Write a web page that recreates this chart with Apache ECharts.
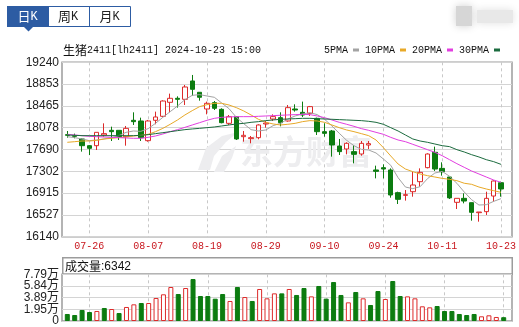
<!DOCTYPE html>
<html><head><meta charset="utf-8">
<script src="https://cdn.jsdelivr.net/npm/echarts@6/dist/echarts.min.js"></script>
<style>html,body{margin:0;padding:0;background:#fff}#c{width:519px;height:327px}</style>
</head><body><div id="c"></div>
<script>
const dates = ['07-23','07-24','07-25','07-26','07-29','07-30','07-31','08-01','08-02','08-05','08-06','08-07','08-08','08-09','08-12','08-13','08-14','08-15','08-16','08-19','08-20','08-21','08-22','08-23','08-26','08-27','08-28','08-29','08-30','09-02','09-03','09-04','09-05','09-06','09-09','09-10','09-11','09-12','09-13','09-18','09-19','09-20','09-23','09-24','09-25','09-26','09-27','09-30','10-08','10-09','10-10','10-11','10-14','10-15','10-16','10-17','10-18','10-21','10-22','10-23'];
const dateLabels = ['07-26','08-07','08-19','08-29','09-10','09-24','10-11','10-23'];
const opens  = [17954,17936,17877,17758,17758,17948,18031,18031,17918,18209,18197,17847,18209,18280,18529,18600,18582,18908,18707,18410,18523,18404,18155,18274,17918,17883,17900,18144,18232,18256,18197,18410,18351,18333,18244,18007,18019,17752,17699,17652,17610,17770,17326,17367,17326,16923,16875,16940,17118,17367,17640,17355,17201,16751,16822,16745,16567,16585,16863,17100];
const closes = [17942,17924,17758,17711,17995,17972,18007,17918,18066,18185,17900,18197,18268,18552,18600,18582,18801,18760,18618,18511,18422,18167,18274,17877,17942,17900,18126,18161,18274,18167,18434,18392,18303,18452,18007,17977,17770,17652,17800,17604,17800,17794,17302,17343,16881,16804,16887,17059,17284,17610,17343,17296,16830,16822,16774,16573,16579,16822,17130,16988];
const lows   = [17900,17889,17652,17592,17681,17918,17841,17859,17758,18126,17841,17829,18138,18268,18351,18434,18481,18647,18558,18315,18392,18155,18126,17859,17829,17800,17871,18078,18197,18102,18185,18363,18268,18286,17948,17918,17563,17592,17604,17444,17580,17699,17177,17177,16834,16721,16781,16851,17029,17355,17308,17225,16810,16632,16733,16425,16407,16526,16763,16851];
const highs  = [18019,17972,17889,17770,17995,18155,18096,18031,18108,18351,18256,18215,18363,18564,18683,18635,18837,19015,18707,18541,18552,18422,18303,18274,18019,17930,18138,18197,18315,18351,18481,18493,18541,18464,18256,18155,18037,17877,17818,17770,17841,17841,17403,17426,17355,16940,16970,17296,17355,17622,17741,17462,17201,16822,16911,16745,16579,16940,17142,17118];
const ma5  = [17918,17901,17877,17847,17859,17877,17901,17936,17995,18019,18013,18061,18155,18262,18363,18464,18576,18653,18665,18641,18618,18517,18416,18262,18149,18043,18019,18037,18114,18155,18232,18286,18321,18345,18310,18227,18108,17978,17853,17758,17693,17681,17628,17521,17409,17189,17023,16994,17029,17172,17272,17302,17213,17089,16934,16798,16703,16709,16768,16816];
const ma10 = [17818,17829,17841,17841,17853,17877,17889,17901,17912,17930,17942,17960,18007,18066,18138,18215,18304,18381,18452,18487,18511,18511,18481,18434,18375,18304,18227,18173,18144,18126,18138,18155,18185,18203,18197,18173,18126,18078,18037,18007,17972,17936,17859,17723,17575,17432,17343,17296,17255,17225,17201,17177,17160,17136,17090,17071,17023,16988,16958,16929];
const ma20 = [17960,17948,17936,17924,17918,17912,17906,17901,17895,17889,17889,17906,17930,17966,18007,18043,18084,18126,18167,18209,18244,18262,18268,18274,18274,18274,18280,18286,18292,18298,18304,18310,18315,18310,18286,18256,18215,18173,18138,18102,18061,18031,17995,17960,17906,17859,17829,17782,17735,17687,17640,17580,17509,17438,17373,17308,17255,17201,17148,17106];
const ma30 = [17948,17942,17936,17936,17936,17936,17936,17936,17936,17936,17942,17954,17972,17989,18007,18025,18043,18055,18066,18078,18090,18108,18126,18144,18155,18173,18185,18203,18215,18227,18232,18238,18244,18244,18238,18232,18227,18221,18215,18209,18203,18191,18173,18138,18078,18019,17948,17877,17841,17818,17788,17758,17741,17687,17646,17598,17557,17509,17474,17426];
const volumes = [11700,10000,18400,15000,16700,21700,20000,13300,23400,27800,30000,30000,38400,44500,56700,45000,55000,70000,41700,41700,37200,45000,33400,56700,40000,33400,53400,37800,46100,46100,53400,43400,55000,41100,58400,37300,65000,43400,31100,48400,37800,26700,50000,36700,66700,41700,41100,37800,24500,22800,25000,16700,16700,11700,10000,11700,7800,9500,6700,6342];
const volumeDirection = [-1,-1,-1,-1,1,-1,1,-1,1,1,-1,1,1,1,1,-1,1,-1,-1,-1,-1,-1,1,-1,1,-1,1,1,1,-1,1,-1,-1,1,-1,-1,-1,-1,1,-1,1,-1,-1,1,-1,-1,1,1,1,1,-1,-1,-1,-1,-1,-1,1,1,1,-1];
const priceTicks = [16140,16527,16915,17302,17690,18078,18465,18853,19240];
const volumeTicks = [0,19475,38950,58425,77900];
const volumeTickLabels = ['0','1.95万','3.89万','5.84万','7.79万'];
const maNames = ['5PMA','10PMA','20PMA','30PMA'];
const lastVolumeText = '6342';

const RED = '#dd2a2a', GREEN = '#0c7c10', BLUE = '#2d5ca3';
const maColors = ['#a3a3a3','#e8a928','#e23ee0','#1b6b3e'];
const maData = [ma5, ma10, ma20, ma30];
const labelSet = new Set(dateLabels);
const showIdx = (i, v) => labelSet.has(v !== undefined ? v : dates[i]);
const gridLine = {color:'#d4d4d4', width:1};
const dashLine = {color:'#c8c8c8', width:1, type:[3,3]};
const volLabel = v => volumeTickLabels[volumeTicks.indexOf(Math.round(v))];

const chart = echarts.init(document.getElementById('c'));
const candleData = opens.map((o, i) => [o, closes[i], lows[i], highs[i]]);
const volData = volumes.map((v, i) => ({
  value: v,
  itemStyle: volumeDirection[i] > 0 ? {color:'#fff', borderColor:RED, borderWidth:1} : {color:GREEN, borderColor:GREEN, borderWidth:1}
}));
const volAxisLabelStyle = {formatter: volLabel, color: '#222', fontSize: 12, margin: 3, showMinLabel: true, showMaxLabel: true, hideOverlap: false};

const option = {
  animation: false,
  backgroundColor: '#fff',
  textStyle: {fontFamily: 'Liberation Sans, Noto Sans CJK SC'},
  title: {
    text: '{c|生猪}{m|2411[lh2411] 2024-10-23 15:00}',
    left: 63, top: 44, padding: 0,
    textStyle: {fontWeight: 'normal', rich: {
      c: {fontSize: 12, fontWeight: 'normal', fontFamily: 'Noto Sans CJK SC', color: '#111'},
      m: {fontSize: 10, fontWeight: 'normal', fontFamily: 'Liberation Mono', color: '#111'}
    }}
  },
  legend: {
    data: maNames, right: 19, top: 45, padding: 0, align: 'right', icon: 'rect',
    itemWidth: 6, itemHeight: 3, itemGap: 6, selectedMode: false,
    textStyle: {fontSize: 10, fontWeight: 'normal', fontFamily: 'Liberation Mono', color: '#111'}
  },
  grid: [
    {left: 62, top: 62.3, width: 450, height: 174.4, show: true, borderColor: '#9c9c9c', borderWidth: 1.5},
    {left: 67.3, top: 62.3, width: 436.4, height: 174.4},
    {left: 62, top: 274.3, width: 450, height: 46.7, show: true, borderColor: '#9c9c9c', borderWidth: 1.5},
    {left: 67.3, top: 274.3, width: 436.4, height: 46.7}
  ],
  xAxis: [
    {type: 'value', gridIndex: 0, show: false},
    {type: 'category', gridIndex: 1, data: dates, boundaryGap: false,
      axisLine: {show: false}, axisTick: {show: false},
      axisLabel: {interval: showIdx, color: '#c8171e', fontSize: 10, fontFamily: 'Liberation Mono', margin: 5},
      splitLine: {show: true, interval: showIdx, lineStyle: dashLine}},
    {type: 'value', gridIndex: 2, show: false},
    {type: 'category', gridIndex: 3, data: dates, boundaryGap: false,
      axisLine: {show: false}, axisTick: {show: false}, axisLabel: {show: false},
      splitLine: {show: true, interval: showIdx, lineStyle: dashLine}}
  ],
  yAxis: [
    {type: 'value', gridIndex: 0, min: 16140, max: 19240,
      axisLine: {show: false}, axisTick: {show: false, customValues: priceTicks},
      axisLabel: {customValues: priceTicks, formatter: v => String(Math.round(v)), color: '#222', fontSize: 12, margin: 3},
      splitLine: {show: true, lineStyle: gridLine}},
    {type: 'value', gridIndex: 1, min: 16140, max: 19240, show: false},
    {type: 'value', gridIndex: 2, min: 0, max: 77900, interval: 19475,
      axisLine: {show: false}, axisTick: {show: false, customValues: volumeTicks},
      axisLabel: Object.assign({customValues: volumeTicks.filter((v, i) => i % 2 === 0)}, volAxisLabelStyle),
      splitLine: {show: true, lineStyle: gridLine}},
    {type: 'value', gridIndex: 3, min: 0, max: 77900, show: false},
    {type: 'value', gridIndex: 2, min: 0, max: 77900, position: 'left', offset: 0,
      axisLine: {show: false}, axisTick: {show: false}, splitLine: {show: false},
      axisLabel: Object.assign({customValues: volumeTicks.filter((v, i) => i % 2 === 1)}, volAxisLabelStyle)}
  ],
  series: [
    {type: 'candlestick', xAxisIndex: 1, yAxisIndex: 1, data: candleData, barWidth: 5, clip: false,
      itemStyle: {color: '#fff', color0: GREEN, borderColor: RED, borderColor0: GREEN, borderWidth: 1}},
    ...maNames.map((n, k) => ({
      name: n, type: 'line', xAxisIndex: 1, yAxisIndex: 1, data: maData[k], symbol: 'none',
      itemStyle: {color: maColors[k]}, lineStyle: {color: maColors[k], width: 1}, z: 3
    })),
    {type: 'bar', xAxisIndex: 3, yAxisIndex: 3, data: volData, barWidth: 5, clip: false}
  ],
  graphic: [
    {type: 'rect', shape: {x: 7.5, y: 6.5, width: 123, height: 20}, style: {fill: '#fff', stroke: BLUE, lineWidth: 1}},
    {type: 'rect', shape: {x: 7, y: 6, width: 42, height: 21}, style: {fill: BLUE}},
    {type: 'line', shape: {x1: 89.5, y1: 6, x2: 89.5, y2: 27}, style: {stroke: BLUE, lineWidth: 1}},
    {type: 'polygon', shape: {points: [[24, 27], [33, 27], [28.5, 31.5]]}, style: {fill: BLUE}},
    {type: 'text', x: 27.5, y: 16.5, style: {text: '{a|日}{b|K}', align: 'center', verticalAlign: 'middle',
      rich: {a: {fontSize: 13, fontFamily: 'Noto Sans CJK SC', fill: '#fff'}, b: {fontSize: 12, fontFamily: 'Liberation Mono', fill: '#fff'}}}},
    {type: 'text', x: 68, y: 16.5, style: {text: '{a|周}{b|K}', align: 'center', verticalAlign: 'middle',
      rich: {a: {fontSize: 13, fontFamily: 'Noto Sans CJK SC', fill: '#222'}, b: {fontSize: 12, fontFamily: 'Liberation Mono', fill: '#222'}}}},
    {type: 'text', x: 109.5, y: 16.5, style: {text: '{a|月}{b|K}', align: 'center', verticalAlign: 'middle',
      rich: {a: {fontSize: 13, fontFamily: 'Noto Sans CJK SC', fill: '#222'}, b: {fontSize: 12, fontFamily: 'Liberation Mono', fill: '#222'}}}},
    {type: 'rect', shape: {x: 456, y: 6, width: 16, height: 20}, style: {fill: '#d6d6d6', shadowBlur: 8, shadowColor: '#d0d0d0'}},
    {type: 'rect', shape: {x: 477, y: 10, width: 36, height: 13}, style: {fill: '#e8e8e8', shadowBlur: 8, shadowColor: '#e0e0e0'}},
    {type: 'rect', shape: {x: 62.75, y: 257.75, width: 449.5, height: 16.5}, style: {fill: 'none', stroke: '#9c9c9c', lineWidth: 1.5}},
    {type: 'text', x: 65, y: 266.5, style: {text: '{a|成交量}{b|:' + lastVolumeText + '}', verticalAlign: 'middle',
      rich: {a: {fontSize: 12, fontFamily: 'Noto Sans CJK SC', fill: '#111'}, b: {fontSize: 12, fontFamily: 'Liberation Sans', fill: '#111'}}}},
    {type: 'polygon', z: 1, shape: {points: [[198, 170], [206, 148], [222, 136], [238, 132], [226, 142], [214, 156], [210, 170]]}, style: {fill: '#ededef'}},
    {type: 'polygon', z: 1, shape: {points: [[214, 172], [222, 156], [236, 146], [232, 158], [224, 172]]}, style: {fill: '#ededef'}},
    {type: 'text', z: 1, x: 240, y: 151, style: {text: '东方财富', fontSize: 33, fontWeight: 'bold', fontFamily: 'Noto Sans CJK SC', fill: '#ededef', verticalAlign: 'middle'}}
  ]
};
chart.setOption(option);
</script></body></html>
